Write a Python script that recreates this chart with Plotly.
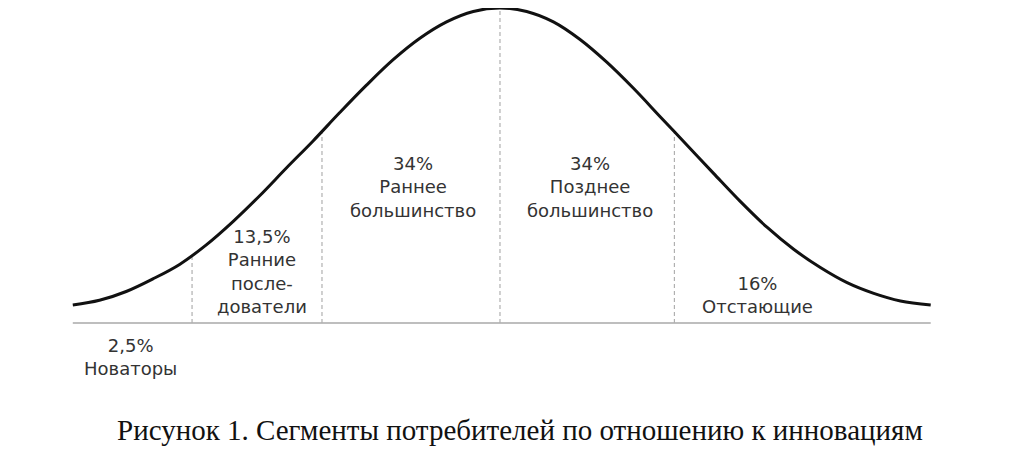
# -*- coding: utf-8 -*-
import plotly.graph_objects as go

# Bell curve (x in std. deviations, y = relative height)
curve_x = [-2.40, -2.25, -2.10, -1.95, -1.80, -1.65, -1.50, -1.35, -1.20, -1.05,
           -0.90, -0.75, -0.60, -0.45, -0.30, -0.15, 0.0, 0.15, 0.30, 0.45, 0.60,
           0.75, 0.90, 1.05, 1.20, 1.35, 1.50, 1.65, 1.80, 1.95, 2.10, 2.25, 2.42]
curve_y = [0.057, 0.072, 0.100, 0.140, 0.186, 0.248, 0.322, 0.404, 0.492, 0.578,
           0.668, 0.755, 0.836, 0.904, 0.956, 0.989, 1.000, 0.989, 0.956, 0.900, 0.828,
           0.745, 0.655, 0.565, 0.475, 0.386, 0.304, 0.234, 0.176, 0.128, 0.094, 0.070, 0.057]

# Segment borders and their heights on the curve
border_x = [-1.73, -1.0, 0.0, 0.98]
border_y = [0.212, 0.606, 1.000, 0.610]

# Segments
shares = ["2,5%", "13,5%", "34%", "34%", "16%"]
names = ["Новаторы", "Ранние<br>после-<br>дователи", "Раннее<br>большинство",
         "Позднее<br>большинство", "Отстающие"]
label_x = [-2.073, -1.339, -0.489, 0.506, 1.444]
label_y = [-0.109, 0.163, 0.432, 0.432, 0.090]

caption = "Рисунок 1. Сегменты потребителей по отношению к инновациям"

fig = go.Figure()

# baseline
fig.add_trace(go.Scatter(x=[curve_x[0], curve_x[-1]], y=[0, 0], mode="lines",
                         line=dict(color="#a8a8a8", width=1.5), hoverinfo="skip"))

# dashed borders
for bx, by in zip(border_x, border_y):
    fig.add_trace(go.Scatter(x=[bx, bx], y=[0, by], mode="lines",
                             line=dict(color="#b0b0b0", width=1.2, dash="4px,3px"),
                             hoverinfo="skip"))

# curve
fig.add_trace(go.Scatter(x=curve_x, y=curve_y, mode="lines", line_shape="spline",
                         line=dict(color="#111111", width=3)))

for s, n, lx, ly in zip(shares, names, label_x, label_y):
    fig.add_annotation(x=lx, y=ly, text=s + "<br>" + n, showarrow=False,
                       font=dict(family="DejaVu Sans", size=18, color="#333333"),
                       align="center", xanchor="center", yanchor="middle")

# page has an 8px body margin, caption centre sits at ~432px on the page
fig.add_annotation(x=0.5, y=(458 - 422) / 458, xref="paper", yref="paper",
                   text=caption, showarrow=False, xanchor="center", yanchor="middle",
                   font=dict(family="Liberation Serif, Times New Roman", size=29, color="#111111"))

fig.update_layout(width=1024, height=458, margin=dict(t=0, b=0, r=0, l=0, pad=0),
                  plot_bgcolor="white", paper_bgcolor="white", showlegend=False,
                  xaxis=dict(range=[-2.764, 2.989], visible=False),
                  yaxis=dict(range=[-0.454, 1.0], visible=False))

fig.write_html("out.html")
